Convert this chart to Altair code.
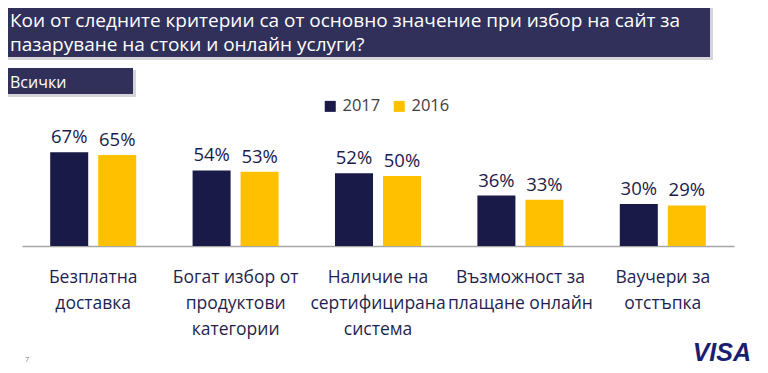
import altair as alt
import pandas as pd

# ---- data ----
categories = [
    "Безплатна|доставка",
    "Богат избор от|продуктови|категории",
    "Наличие на|сертифицирана|система",
    "Възможност за|плащане онлайн",
    "Ваучери за|отстъпка",
]
years = ["2017", "2016"]
values_2017 = [67, 54, 52, 36, 30]
values_2016 = [65, 53, 50, 33, 29]
colors = ["#1a1a48", "#ffc000"]

title_lines = [
    "Кои от следните критерии са от основно значение при избор на сайт за",
    "пазаруване на стоки и онлайн услуги?",
]
subtitle = "Всички"
logo = "VISA"
page_no = "7"

rows = []
for c, v17, v16 in zip(categories, values_2017, values_2016):
    rows.append({"category": c, "year": "2017", "value": v17})
    rows.append({"category": c, "year": "2016", "value": v16})
df = pd.DataFrame(rows)
one = pd.DataFrame({"k": [0]})

FONT = "Open Sans"

x_enc = alt.X(
    "category:N",
    sort=categories,
    scale=alt.Scale(paddingInner=0.396, paddingOuter=0.198),
    axis=alt.Axis(
        title=None,
        ticks=False,
        tickSize=0,
        labelAngle=0,
        labelExpr="split(datum.value, '|')",
        labelFont=FONT,
        labelFontSize=17.5,
        labelColor="#1f1f4f",
        labelLineHeight=26,
        labelBaseline="alphabetic",
        labelPadding=36,
        labelLimit=300,
        domainColor="#a6a6a6",
        domainWidth=1.5,
        grid=False,
    ),
)
xo_enc = alt.XOffset(
    "year:N", sort=years, scale=alt.Scale(paddingInner=0.208, paddingOuter=0)
)
y_enc = alt.Y("value:Q", scale=alt.Scale(domain=[0, 100]), axis=None)

bars = alt.Chart(df).mark_bar().encode(
    x=x_enc,
    xOffset=xo_enc,
    y=y_enc,
    color=alt.Color(
        "year:N",
        scale=alt.Scale(domain=years, range=colors),
        legend=alt.Legend(
            orient="none",
            legendX=300,
            legendY=-8,
            direction="horizontal",
            title=None,
            symbolType="square",
            symbolSize=121,
            symbolStrokeWidth=0,
            labelFont=FONT,
            labelFontSize=16.5,
            labelColor="#404040",
            labelOffset=4,
            columnPadding=10,
            padding=0,
        ),
    ),
)

labels = alt.Chart(df).transform_calculate(
    label="datum.value + '%'"
).mark_text(
    font=FONT, fontSize=18.5, color="#1b1b4b", baseline="alphabetic", dy=-9
).encode(x=x_enc, xOffset=xo_enc, y=y_enc, text="label:N")

# ---- decorations (header boxes, logo) ----
shadow = alt.Chart(one).mark_rect(color="#b8b8c0", opacity=0.6).encode(
    x=alt.value(-20), x2=alt.value(691), y=alt.value(-100), y2=alt.value(-46)
)
title_box = alt.Chart(one).mark_rect(color="#30305a").encode(
    x=alt.value(-22), x2=alt.value(688), y=alt.value(-102), y2=alt.value(-49)
)
title_t1 = alt.Chart(one).mark_text(
    font=FONT, fontSize=19, color="white", align="left", baseline="alphabetic"
).encode(x=alt.value(-12), y=alt.value(-79), text=alt.value(title_lines[0]))
title_t2 = alt.Chart(one).mark_text(
    font=FONT, fontSize=19, color="white", align="left", baseline="alphabetic"
).encode(x=alt.value(-12), y=alt.value(-55), text=alt.value(title_lines[1]))

sub_shadow = alt.Chart(one).mark_rect(color="#b8b8c0", opacity=0.6).encode(
    x=alt.value(-20), x2=alt.value(114), y=alt.value(-36), y2=alt.value(-9)
)
sub_box = alt.Chart(one).mark_rect(color="#30305a").encode(
    x=alt.value(-22), x2=alt.value(111), y=alt.value(-38), y2=alt.value(-12)
)
sub_text = alt.Chart(one).mark_text(
    font=FONT, fontSize=16, color="white", align="left", baseline="alphabetic"
).encode(x=alt.value(-12), y=alt.value(-18), text=alt.value(subtitle))

visa = alt.Chart(one).mark_text(
    font="Liberation Sans", fontSize=25, fontWeight="bold", fontStyle="italic",
    color="#1a1f71", align="right", baseline="alphabetic"
).encode(x=alt.value(729), y=alt.value(255), text=alt.value(logo))

pno = alt.Chart(one).mark_text(
    font=FONT, fontSize=7, color="#808080", align="left", baseline="alphabetic"
).encode(x=alt.value(3), y=alt.value(256), text=alt.value(page_no))

chart = alt.layer(
    shadow, title_box, title_t1, title_t2, sub_shadow, sub_box, sub_text,
    bars, labels, visa, pno
).properties(
    width=712,
    height=140,
    padding={"left": 14, "top": 98, "right": 26, "bottom": 119},
    autosize=alt.AutoSizeParams(type="none"),
).configure_view(stroke=None)

chart.save("out.html", embed_options={"renderer": "svg", "actions": False})
